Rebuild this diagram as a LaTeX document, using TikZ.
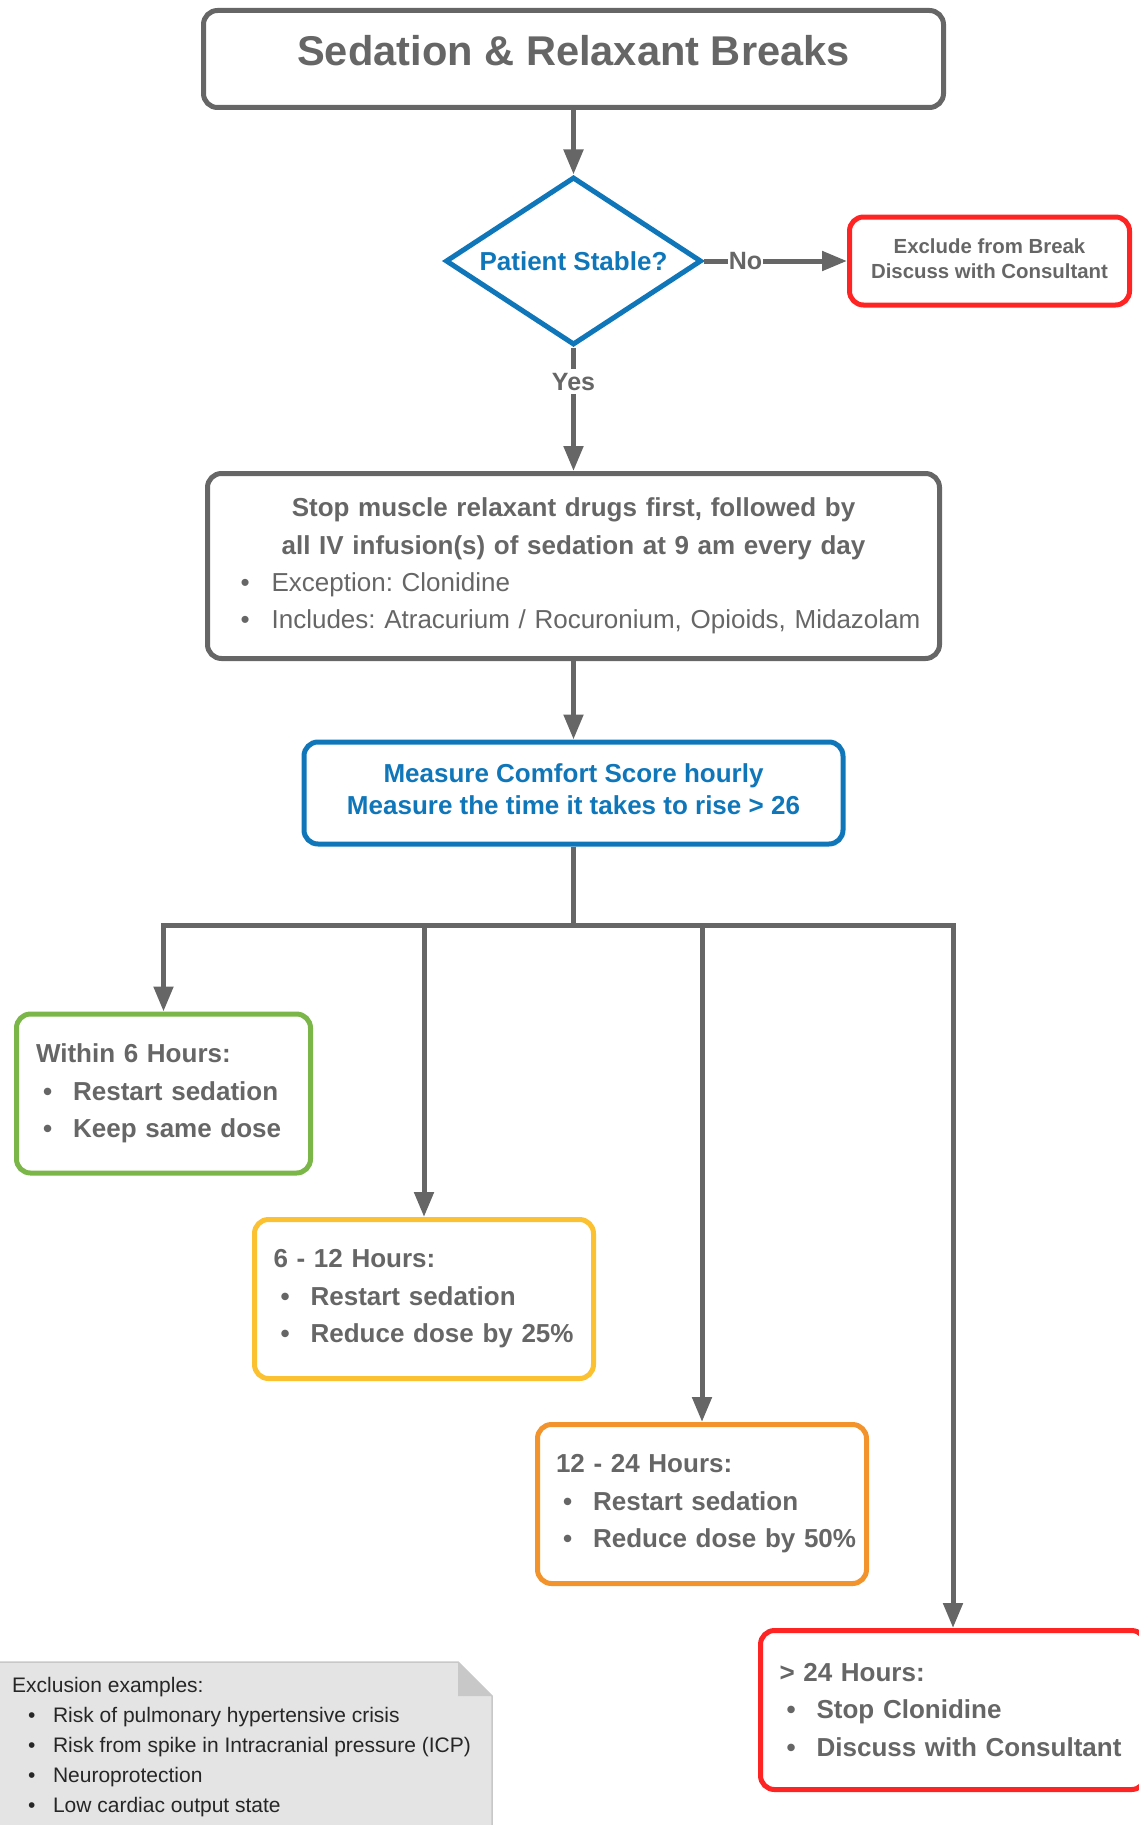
\documentclass[tikz,border=0pt]{standalone}
\usepackage{fontspec}
\setmainfont{Liberation Sans}
\usetikzlibrary{shapes.geometric,arrows.meta}
\definecolor{fgray}{HTML}{666666}
\definecolor{fblue}{HTML}{1076BA}
\definecolor{fred}{HTML}{FF2424}
\definecolor{fgreen}{HTML}{7AB648}
\definecolor{fyellow}{HTML}{FBC130}
\definecolor{forange}{HTML}{F2932B}
\definecolor{notefill}{HTML}{E4E4E4}
\definecolor{noteedge}{HTML}{C8C8C8}
\definecolor{notetext}{HTML}{262626}
\frenchspacing
\newcommand{\itm}[1]{\\\mbox{\hspace*{7pt}\textbullet\hspace*{21pt}#1}}
\newcommand{\subitm}[1]{\makebox[\linewidth][l]{\mdseries\hspace*{12pt}\textbullet\hspace{22pt}#1}}

\begin{document}
\begin{tikzpicture}[x=1pt,y=-1pt,
    box/.style={draw=#1,line width=5pt,rounded corners=14pt,inner sep=0pt,text=fgray,
        font=\bfseries\fontsize{26}{37.5}\selectfont},
    box/.default=fgray,
    hours/.style={box=#1,align=left,minimum height=159},
    arr/.style={draw=fgray,line width=5pt,-{Triangle[length=25pt,width=19pt]}},
    lbl/.style={fill=white,inner xsep=1pt,inner ysep=4pt,text=fgray,
        font=\bfseries\fontsize{25}{30}\selectfont}]
        \useasboundingbox (0,0) rectangle (1139,1825);
        \node[box,minimum width=740,minimum height=97,text height=26pt,text depth=12pt,
            font=\bfseries\fontsize{41.6}{48}\selectfont] (title) at (573.5,59) {Sedation \& Relaxant Breaks};
        \node[diamond,draw=fblue,line width=5pt,aspect=1.52,minimum width=256,minimum height=168,inner sep=0pt,
            text=fblue,font=\bfseries\fontsize{26}{30}\selectfont] (stable) at (573.5,261) {Patient Stable?};
        \node[box=fred,minimum width=280,minimum height=88,text depth=5pt,align=center,
            font=\bfseries\fontsize{20.4}{25.5}\selectfont] (excl) at (989.5,261) {Exclude from Break\\Discuss with Consultant};
        \node[box,minimum width=732,minimum height=185,text width=690,align=center,
            font=\bfseries\fontsize{26}{37.2}\selectfont] (stop) at (573.5,566) {Stop muscle relaxant drugs first, followed by\\all IV infusion(s) of sedation at 9 am every day\\\subitm{Exception: Clonidine}\\\subitm{Includes: Atracurium / Rocuronium, Opioids, Midazolam}};
        \node[box=fblue,text=fblue,minimum width=539,minimum height=102,text depth=8pt,align=center,
            font=\bfseries\fontsize{26}{31.4}\selectfont] (score) at (573.5,793) {Measure Comfort Score hourly\\Measure the time it takes to rise > 26};
        \node[hours=fgreen,minimum width=294,text width=255] (h6) at (163.5,1093.5) {Within 6 Hours:\itm{Restart sedation}\itm{Keep same dose}};
        \node[hours=fyellow,minimum width=339,text width=301] (h12) at (424,1299) {6 - 12 Hours:\itm{Restart sedation}\itm{Reduce dose by 25\%}};
        \node[hours=forange,minimum width=329,text width=292] (h24) at (702,1504) {12 - 24 Hours:\itm{Restart sedation}\itm{Reduce dose by 50\%}};
        \node[hours=fred,minimum width=385,text width=347] (h25) at (953,1710) {> 24 Hours:\itm{Stop Clonidine}\itm{Discuss with Consultant}};
        \coordinate (split) at (573.5,925);
        \draw[arr] (title) -- (stable);
        \draw[arr] (stable) -- (excl);
        \draw[arr] (stable) -- (stop);
        \path (stable) -- node[lbl,pos=.29] (no) {No} (excl);
        \path (stable) -- node[lbl,pos=.276] (yes) {Yes} (stop);
        \draw[arr] (stop) -- (score);
        \draw[draw=fgray,line width=5pt] (score) -- (split);
        \foreach \h in {h6,h12,h24,h25}{
            \draw[arr] (split) -| (\h);
        }
        \fill[notefill] (-3,1662) -- (458,1662) -- (492,1696) -- (492,1830) -- (-3,1830) -- cycle;
        \fill[noteedge] (458,1662) -- (458,1696) -- (492,1696) -- cycle;
        \draw[noteedge,line width=1.5pt] (-3,1662) -- (458,1662) -- (492,1696) -- (492,1830);
        \node[anchor=north west,align=left,inner sep=0pt,text=notetext,font=\fontsize{21}{30}\selectfont] (note) at (12,1677) {Exclusion examples:\\\hspace*{16pt}\textbullet\hspace{17.5pt}Risk of pulmonary hypertensive crisis\\\hspace*{16pt}\textbullet\hspace{17.5pt}Risk from spike in Intracranial pressure (ICP)\\\hspace*{16pt}\textbullet\hspace{17.5pt}Neuroprotection\\\hspace*{16pt}\textbullet\hspace{17.5pt}Low cardiac output state};
    \end{tikzpicture}
\end{document}
